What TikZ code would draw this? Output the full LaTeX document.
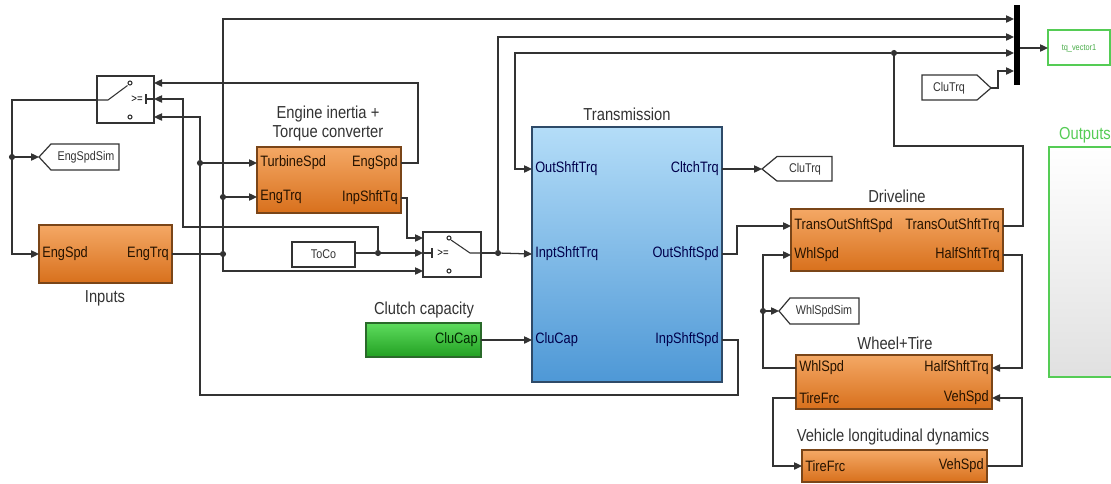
\documentclass[tikz,border=0pt]{standalone}
\usepackage{fontspec}
\setmainfont{Liberation Sans}[FakeStretch=0.85]
\usetikzlibrary{arrows.meta}
\definecolor{wirec}{HTML}{333333}
\definecolor{ortop}{HTML}{F4A865}
\definecolor{orbot}{HTML}{D8701C}
\definecolor{orbd}{HTML}{7A4518}
\definecolor{bltop}{HTML}{B4DDF8}
\definecolor{blbot}{HTML}{4E98D6}
\definecolor{blbd}{HTML}{2E4A68}
\definecolor{grtop}{HTML}{5EDC5E}
\definecolor{grbot}{HTML}{22A022}
\definecolor{grbd}{HTML}{2A6A2A}
\definecolor{outg}{HTML}{55CC55}
\definecolor{ttlc}{HTML}{333333}
\begin{document}
\begin{tikzpicture}[x=0.75pt,y=-0.75pt,
  wire/.style={draw=wirec, line width=0.95pt},
  arr/.style={wire, -{Triangle[length=6pt,width=5.5pt]}},
  blk/.style={rectangle, line width=1pt, inner sep=0pt, outer sep=0pt},
  orblk/.style={blk, draw=orbd, top color=ortop, bottom color=orbot},
  blblk/.style={blk, draw=blbd, top color=bltop, bottom color=blbot},
  grblk/.style={blk, draw=grbd, top color=grtop, bottom color=grbot},
  wblk/.style={blk, draw=wirec, fill=white, line width=0.9pt},
  port/.style={font=\fontsize{11.3}{12}\selectfont, inner sep=0pt, text=black!85!orange},
  bport/.style={font=\fontsize{11.3}{12}\selectfont, inner sep=0pt, text=blue!30!black},
  ttl/.style={font=\fontsize{13}{15}\selectfont, inner sep=0pt, text=ttlc},
  tagtxt/.style={font=\fontsize{9.5}{11}\selectfont, inner sep=0pt, text=black!80},
  dotn/.style={circle, fill=wirec, inner sep=0pt, minimum size=4.6pt},
  tagshape/.style={draw=wirec, line width=0.9pt, fill=white}
]
\useasboundingbox (0,0) rectangle (1111,483);
\clip (0,0) rectangle (1111,483);
\fill[white] (0,0) rectangle (1111,483);

% ---------- blocks ----------
\node[orblk, minimum width=99.75pt, minimum height=43.5pt] (inp) at (105.5,254) {};
\node[ttl] (inpT) at (105,298) {Inputs};
\node[port, anchor=west] (inpL1) at (42,254) {EngSpd};
\node[port, anchor=east] (inpR1) at (169,254) {EngTrq};
\coordinate (inES) at (39,254);
\coordinate (inET) at (172,254);

\node[orblk, minimum width=108pt, minimum height=49.5pt] (eng) at (329,180) {};
\node[ttl] (engT1) at (328,114) {Engine inertia +};
\node[ttl] (engT2) at (328,133) {Torque converter};
\node[port, anchor=west] (engL1) at (260,163) {TurbineSpd};
\node[port, anchor=west] (engL2) at (260,197) {EngTrq};
\node[port, anchor=east] (engR1) at (398,163) {EngSpd};
\node[port, anchor=east] (engR2) at (398,198) {InpShftTq};
\coordinate (engTS) at (257,163);
\coordinate (engET) at (257,197);
\coordinate (engES) at (401,163);
\coordinate (engIS) at (401,198);

\node[blblk, minimum width=142.5pt, minimum height=191.25pt] (tr) at (627,254.5) {};
\node[ttl] (trT) at (627,114) {Transmission};
\node[bport, anchor=west] (trL1) at (535,169) {OutShftTrq};
\node[bport, anchor=west] (trL2) at (535,254) {InptShftTrq};
\node[bport, anchor=west] (trL3) at (535,340) {CluCap};
\node[bport, anchor=east] (trR1) at (719,169) {CltchTrq};
\node[bport, anchor=east] (trR2) at (719,254) {OutShftSpd};
\node[bport, anchor=east] (trR3) at (719,340) {InpShftSpd};
\coordinate (trOST) at (532,169);
\coordinate (trIST) at (532,254);
\coordinate (trCC) at (532,340);
\coordinate (trCT) at (722,169);
\coordinate (trOSS) at (722,254);
\coordinate (trISS) at (722,340);

\node[grblk, minimum width=86.25pt, minimum height=25.5pt] (cl) at (423.5,340) {};
\node[ttl] (clT) at (424,310) {Clutch capacity};
\node[port, anchor=east, text=black!85!green] (clR) at (478,340) {CluCap};
\coordinate (clOut) at (481,340);

\node[orblk, minimum width=159pt, minimum height=46.5pt] (dr) at (897,240) {};
\node[ttl] (drT) at (897,196) {Driveline};
\node[port, anchor=west] (drL1) at (794,226) {TransOutShftSpd};
\node[port, anchor=west] (drL2) at (794,255) {WhlSpd};
\node[port, anchor=east] (drR1) at (1000,226) {TransOutShftTrq};
\node[port, anchor=east] (drR2) at (1000,255) {HalfShftTrq};
\coordinate (drTOS) at (791,226);
\coordinate (drWS) at (791,255);
\coordinate (drTOT) at (1003,226);
\coordinate (drHST) at (1003,255);

\node[orblk, minimum width=147pt, minimum height=40.5pt] (wh) at (894,382) {};
\node[ttl] (whT) at (895,343) {Wheel+Tire};
\node[port, anchor=west] (whL1) at (799,368) {WhlSpd};
\node[port, anchor=west] (whL2) at (799,398) {TireFrc};
\node[port, anchor=east] (whR1) at (989,368) {HalfShftTrq};
\node[port, anchor=east] (whR2) at (989,398) {VehSpd};
\coordinate (whWS) at (796,368);
\coordinate (whTF) at (796,398);
\coordinate (whHST) at (992,368);
\coordinate (whVS) at (992,398);

\node[orblk, minimum width=138.75pt, minimum height=24pt] (ve) at (894.5,466) {};
\node[ttl] (veT) at (893,437) {Vehicle longitudinal dynamics};
\node[port, anchor=west] (veL1) at (805,466) {TireFrc};
\node[port, anchor=east] (veR1) at (984,466) {VehSpd};
\coordinate (veTF) at (802,466);
\coordinate (veVS) at (987,466);

% ToCo constant
\node[wblk, minimum width=47.25pt, minimum height=18.75pt] (toco) at (323.5,254.5) {};
\node[tagtxt] (tocoT) at (323.5,254) {ToCo};
\coordinate (tocoOut) at (355,253);

% Switch 1 (flipped)
\node[wblk, minimum width=42.75pt, minimum height=35.25pt] (sw1) at (125.5,99.5) {};
\coordinate (sw1in1) at (154,83);
\coordinate (sw1in2) at (154,99);
\coordinate (sw1in3) at (154,117);
\coordinate (sw1out) at (97,100);
\draw[wire, line width=0.8pt] (sw1out) -- (108,100) -- (127.5,85.5);
\draw[wire, line width=0.8pt] (130,83) circle (1.5pt);
\draw[wire, line width=0.8pt] (130,117) circle (1.5pt);
\node[font=\fontsize{8.5}{9}\selectfont, inner sep=0pt] (sw1txt) at (137,99.5) {>=};
\draw[wire, line width=0.9pt] (146,94) -- (146,104);
\draw[wire, line width=0.9pt] (146,99) -- (sw1in2);

% Switch 2
\node[wblk, minimum width=43.5pt, minimum height=33.75pt] (sw2) at (452,254.5) {};
\coordinate (sw2in1) at (423,238);
\coordinate (sw2in2) at (423,253);
\coordinate (sw2in3) at (423,271);
\coordinate (sw2out) at (481,253);
\draw[wire, line width=0.9pt] (432,248) -- (432,258);
\draw[wire, line width=0.9pt] (sw2in2) -- (432,253);
\node[font=\fontsize{8.5}{9}\selectfont, inner sep=0pt] (sw2txt) at (443,253.5) {>=};
\draw[wire, line width=0.8pt] (449,238) circle (1.5pt);
\draw[wire, line width=0.8pt] (449,271) circle (1.5pt);
\draw[wire, line width=0.8pt] (451,240) -- (470,253) -- (sw2out);

% Tags
\draw[tagshape] (39,157) -- (51,144) -- (119,144) -- (119,170) -- (51,170) -- cycle;
\node[tagtxt] (engSimT) at (86,157) {EngSpdSim};
\coordinate (engSimTip) at (39,157);

\draw[tagshape] (762,169) -- (777,156.5) -- (832,156.5) -- (832,181) -- (777,181) -- cycle;
\node[tagtxt] (cluGotoT) at (805,169) {CluTrq};
\coordinate (cluGotoTip) at (762,169);

\draw[tagshape] (779,311) -- (790,298) -- (859,298) -- (859,324) -- (790,324) -- cycle;
\node[tagtxt] (whlSimT) at (824,311) {WhlSpdSim};
\coordinate (whlSimTip) at (779,311);

\draw[tagshape] (922,75) -- (977,75) -- (991,88) -- (977,100) -- (922,100) -- cycle;
\node[tagtxt] (cluFromT) at (949,88) {CluTrq};
\coordinate (cluFromTip) at (991,88);

% Mux and output
\node[rectangle, fill=black, inner sep=0pt, minimum width=4.5pt, minimum height=60pt] (mux) at (1017,45) {};
\coordinate (mux1) at (1014,19);
\coordinate (mux2) at (1014,37);
\coordinate (mux3) at (1014,53);
\coordinate (mux4) at (1014,71);
\coordinate (muxOut) at (1020,48);
\node[blk, draw=outg, fill=white, line width=0.9pt, minimum width=46.5pt, minimum height=26.25pt] (tq) at (1079,47.5) {};
\node[font=\fontsize{6.5}{7}\selectfont, text=outg!85!black, inner sep=0pt] (tqT) at (1079,48) {tq\_vector1};
\coordinate (tqIn) at (1048,48);

\node[blk, draw=outg, line width=1.1pt, top color=white, bottom color=black!12, minimum width=51.75pt, minimum height=172.5pt] (outs) at (1083.5,262) {};
\node[ttl, text=outg] (outsT) at (1085,135) {Outputs};

% dots
\node[dotn] (d378) at (378,253) {};
\node[dotn] (d200) at (200,163) {};
\node[dotn] (d223a) at (223,197) {};
\node[dotn] (d223b) at (223,254) {};
\node[dotn] (d498) at (498,253) {};
\node[dotn] (d894) at (894,53) {};
\node[dotn] (d12) at (12,157) {};
\node[dotn] (d763) at (763,311) {};

% ---------- connectors ----------
\draw[arr] (engES) -- (418,163) -- (418,83) -- (sw1in1);
\draw[wire] (tocoOut) -- (d378);
\draw[arr] (d378) -- (sw2in2);
\draw[arr] (d378) -- (378,227) -- (183,227) -- (183,99) -- (sw1in2);
\draw[wire] (trISS) -- (738,340) -- (738,395) -- (200,395) -- (d200);
\draw[arr] (d200) -- (200,117) -- (sw1in3);
\draw[arr] (d200) -- (engTS);
\draw[wire] (inET) -- (d223b);
\draw[arr] (d223b) -- (223,271) -- (sw2in3);
\draw[wire] (d223b) -- (d223a);
\draw[arr] (d223a) -- (engET);
\draw[arr] (d223a) -- (223,19) -- (mux1);
\draw[arr] (engIS) -- (407,198) -- (407,238) -- (sw2in1);
\draw[wire] (sw2out) -- (d498);
\draw[arr] (d498) -- (trIST);
\draw[arr] (d498) -- (498,37) -- (mux2);
\draw[wire] (drTOT) -- (1023,226) -- (1023,146) -- (894,146) -- (d894);
\draw[arr] (d894) -- (mux3);
\draw[arr] (d894) -- (515,53) -- (515,169) -- (trOST);
\draw[arr] (cluFromTip) -- (998,88) -- (998,71) -- (mux4);
\draw[arr] (muxOut) -- (tqIn);
\draw[arr] (trCT) -- (cluGotoTip);
\draw[arr] (trOSS) -- (737,254) -- (737,226) -- (drTOS);
\draw[arr] (clOut) -- (trCC);
\draw[wire] (sw1out) -- (12,100) -- (d12);
\draw[arr] (d12) -- (12,254) -- (inES);
\draw[arr] (d12) -- (engSimTip);
\draw[wire] (whWS) -- (763,368) -- (d763);
\draw[arr] (d763) -- (763,255) -- (drWS);
\draw[arr] (d763) -- (whlSimTip);
\draw[arr] (drHST) -- (1022,255) -- (1022,368) -- (whHST);
\draw[arr] (whTF) -- (773,398) -- (773,466) -- (veTF);
\draw[arr] (veVS) -- (1022,466) -- (1022,398) -- (whVS);
\end{tikzpicture}
\end{document}
